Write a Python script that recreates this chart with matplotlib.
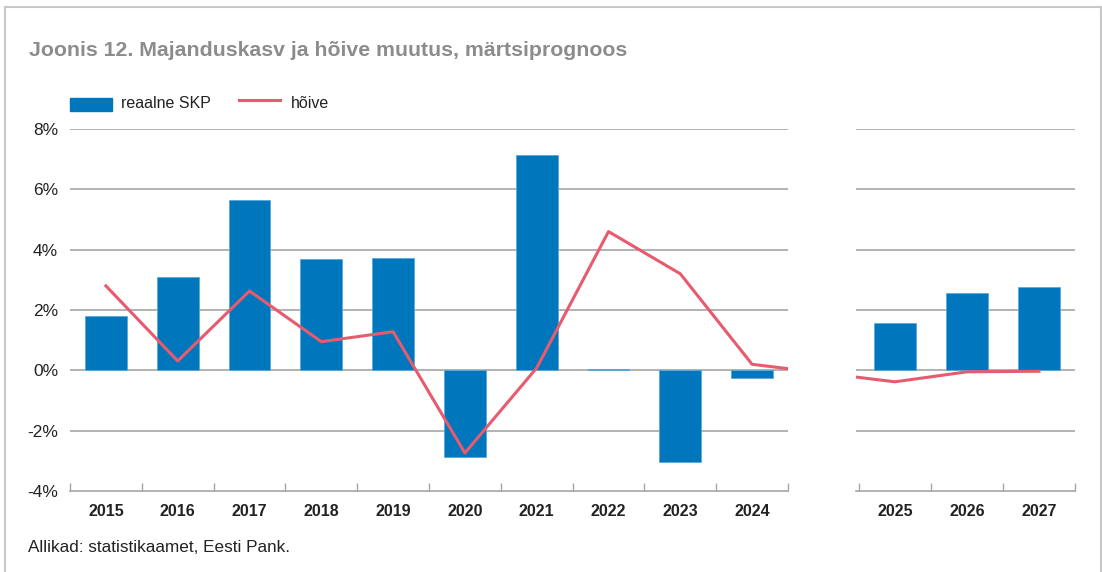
import matplotlib
matplotlib.use("Agg")
import matplotlib.pyplot as plt
from matplotlib.lines import Line2D
from matplotlib.patches import Rectangle
import numpy as np

plt.rcParams['font.family'] = ['Liberation Sans', 'DejaVu Sans']

years_hist = ['2015', '2016', '2017', '2018', '2019', '2020', '2021', '2022', '2023', '2024']
years_fc = ['2025', '2026', '2027']
gdp_hist = [1.8, 3.1, 5.63, 3.68, 3.71, -2.87, 7.14, 0.04, -3.03, -0.27]
gdp_fc = [1.56, 2.56, 2.75]
emp_hist = [2.8, 0.31, 2.63, 0.95, 1.28, -2.74, 0.08, 4.6, 3.2, 0.2]
emp_fc = [-0.38, -0.05, -0.03]
yticks = [-4, -2, 0, 2, 4, 6, 8]

BLUE = '#0077bc'
RED = '#e85a6e'
GRID = '#a6a6a6'
W, H = 1102, 572

fig = plt.figure(figsize=(W / 100, H / 100), dpi=100)

def px_box(x0, x1, ytop, ybot):
    return [x0 / W, 1 - ybot / H, (x1 - x0) / W, (ybot - ytop) / H]

ax1 = fig.add_axes(px_box(70, 788, 129, 491))
ax2 = fig.add_axes(px_box(856, 1075, 129, 491))

# employment line drawn as one series across the break
n = len(years_hist)
emp_all = emp_hist + emp_fc
x_left = list(range(n)) + [n + 1 + i for i in range(len(years_fc))]
x_right = [i - (n + 1) for i in x_left]

def style(ax, xlim, ticks_at):
    ax.set_xlim(*xlim)
    ax.set_ylim(-4, 8)
    for s in ['top', 'right', 'left']:
        ax.spines[s].set_visible(False)
    ax.spines['bottom'].set_color(GRID)
    ax.spines['bottom'].set_linewidth(1.2)
    for v in yticks[1:]:
        ax.axhline(v, color=GRID, lw=1.2, zorder=0)
    ax.tick_params(axis='y', length=0)
    ax.set_xticks(ticks_at, minor=True)
    ax.tick_params(axis='x', which='minor', direction='in', length=6,
                   color=GRID, width=1)
    ax.tick_params(axis='x', which='major', length=0, pad=9.5,
                   labelsize=11.5)
    for lab in ax.get_xticklabels():
        lab.set_fontweight('bold')
        lab.set_color('#222222')

ax1.bar(range(n), gdp_hist, width=0.58, color=BLUE, edgecolor='#5aa9dc',
        linewidth=0.6, zorder=2)
ax1.plot(x_left, emp_all, color=RED, lw=2.2, zorder=3)
ax1.set_xticks(range(n))
ax1.set_xticklabels(years_hist)
ax1.set_yticks(yticks)
ax1.set_yticklabels([f'{v}%' for v in yticks], fontsize=12.5, color='#222222')
ax1.tick_params(axis='y', pad=8.6)
style(ax1, (-0.5, n - 0.5), np.arange(-0.5, n, 1.0))

ax2.bar(range(len(years_fc)), gdp_fc, width=0.58, color=BLUE,
        edgecolor='#5aa9dc', linewidth=0.6, zorder=2)
ax2.plot(x_right, emp_all, color=RED, lw=2.2, zorder=3)
ax2.set_xticks(range(len(years_fc)))
ax2.set_xticklabels(years_fc)
ax2.set_yticks(yticks)
ax2.set_yticklabels([])
style(ax2, (-0.54, 2.5), np.arange(-0.5, 3, 1.0))

fig.text(29 / W, 1 - 51 / H, 'Joonis 12. Majanduskasv ja hõive muutus, märtsiprognoos',
         fontsize=15.3, fontweight='bold', color='#8c8c8c', va='center')

fig.add_artist(Rectangle((70 / W, 1 - 111 / H), 42 / W, 13 / H,
                         transform=fig.transFigure, color=BLUE))
fig.text(121 / W, 1 - 103 / H, 'reaalne SKP', fontsize=11.5, va='center',
         color='#222222')
fig.add_artist(Line2D([239 / W, 280 / W], [1 - 100 / H, 1 - 100 / H],
                      transform=fig.transFigure, color=RED, lw=2.2))
fig.text(291 / W, 1 - 103 / H, 'hõive', fontsize=11.5, va='center',
         color='#222222')

fig.text(28 / W, 1 - 547 / H, 'Allikad: statistikaamet, Eesti Pank.',
         fontsize=12.3, va='center', color='#222222')

# frame around the figure
for xs, ys in [([5, 5], [7, 572]), ([5, 1101], [7, 7]), ([1101, 1101], [7, 572])]:
    fig.add_artist(Line2D([x / W for x in xs], [1 - y / H for y in ys],
                          transform=fig.transFigure, color='#c8c8c8', lw=1.5))

fig.savefig('out.png', dpi=100)
